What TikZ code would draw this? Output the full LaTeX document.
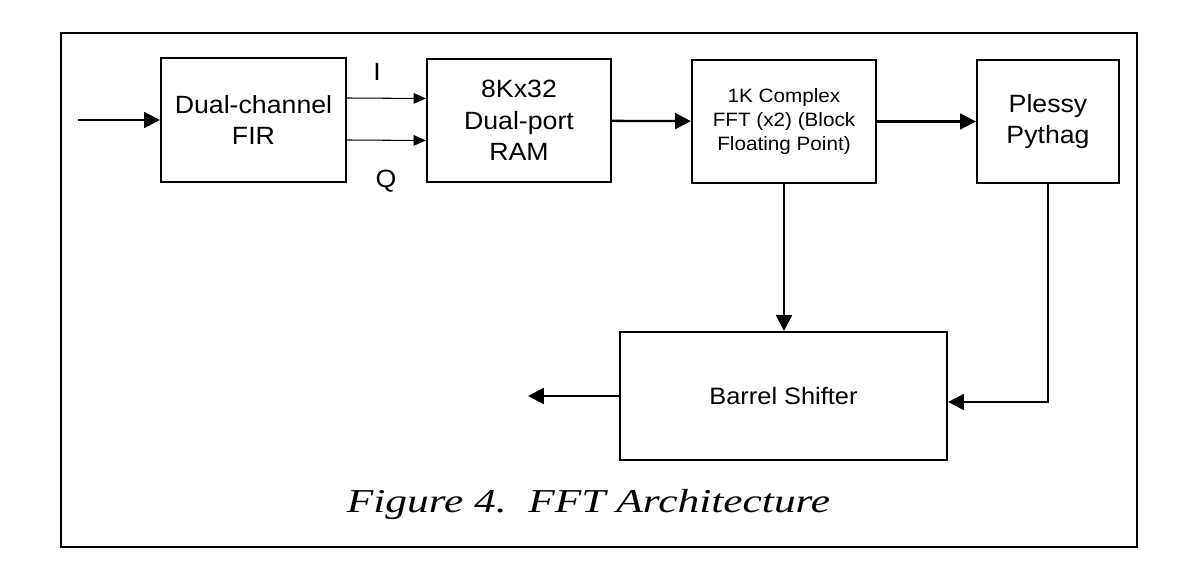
\documentclass[tikz,border=0pt]{standalone}
\usepackage{fontspec}
\setsansfont[FakeStretch=1.07]{Liberation Sans}
\newfontfamily\capfont[FakeStretch=1.3]{Liberation Serif}
\usetikzlibrary{arrows.meta}
\tikzset{
  block/.style={draw,line width=1.2pt,minimum height=2.46cm,align=center,
    font=\sffamily\fontsize{14.2}{18}\selectfont},
  thinarrow/.style={line width=0.6pt,-{Triangle[length=7pt,width=6pt]}}
}
\begin{document}
\begin{tikzpicture}[>={Triangle[length=9pt,width=9pt]},line width=1.3pt]
	\useasboundingbox (0,0) rectangle (23.84,11.48);
	\draw[line width=1.2pt] (1.22,0.54) rectangle (22.74,10.82);
	\node[block,minimum width=3.7cm,minimum height=2.48cm] (fir) at (5.07,9.08) {Dual-channel\\FIR};
	\node[block,minimum width=3.68cm] (ram) at (10.38,9.07) {8Kx32\\Dual-port\\RAM};
	\node[block,minimum width=3.68cm,font=\sffamily\fontsize{11}{13.6}\selectfont] (fft) at (15.68,9.05)
		{1K Complex\\FFT (x2) (Block\\Floating Point)};
	\node[block,minimum width=2.84cm] (pythag) at (20.96,9.05) {Plessy\\Pythag};
	\node[block,minimum width=6.54cm,minimum height=2.56cm,font=\sffamily\fontsize{13.5}{16}\selectfont] (shifter) at (15.67,3.56) {Barrel Shifter};
	\coordinate (in) at (1.56,9.08);
	\coordinate (out) at (10.56,3.56);
	\node[font=\sffamily\fontsize{14.2}{18}\selectfont] (ilab) at (7.54,10.04) {I};
	\node[font=\sffamily\fontsize{14.2}{18}\selectfont] (qlab) at (7.72,7.86) {Q};
	\draw[->] (in) -- (fir);
	\draw[thinarrow] ([yshift=0.44cm]fir.east) -- ([yshift=0.44cm]ram.west);
	\draw[thinarrow] ([yshift=-0.40cm]fir.east) -- ([yshift=-0.40cm]ram.west);
	\draw[->] (ram) -- (fft);
	\draw[->] (fft) -- (pythag);
	\draw[->] (fft.south) -- (fft.south |- shifter.north);
	\draw[->] (pythag.south) |- ([yshift=-0.12cm]shifter.east);
	\draw[->] (shifter.west) -- (out);
	\node[anchor=base,font=\capfont\itshape\fontsize{19}{22}\selectfont] (caption) at (11.77,1.24)
		{Figure 4.\ \ FFT Architecture};
\end{tikzpicture}
\end{document}
